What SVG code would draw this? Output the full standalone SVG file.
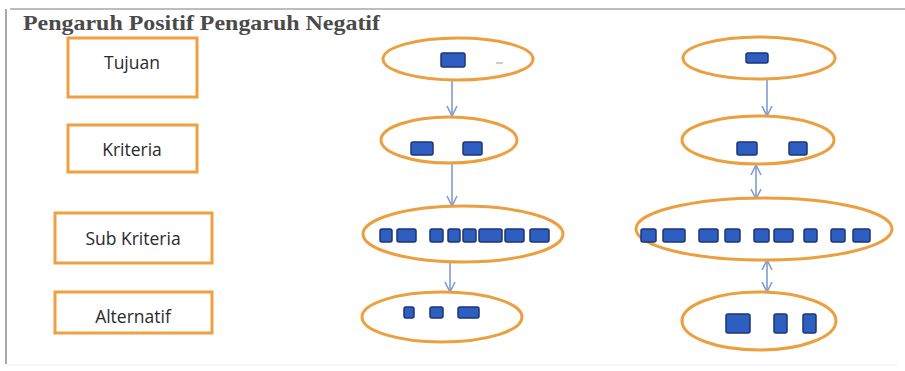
<svg xmlns="http://www.w3.org/2000/svg" width="905" height="371" viewBox="0 0 905 371">
<defs>
<style>
.lbl{fill:#fff;stroke:#F0A040;stroke-width:3}
.lt{font-family:"Open Sans","Liberation Sans",sans-serif;font-size:17.5px;fill:#2a2a2a;text-anchor:middle}
.ell{fill:#fff;stroke:#EBA040;stroke-width:3}
.b{fill:#2E5FC0;stroke:#1B3575;stroke-width:1.5}
.c{stroke:#7F9BD0;stroke-width:1.6;fill:none}
</style>
<marker id="ah" viewBox="0 0 12 12" refX="11" refY="6" markerWidth="12" markerHeight="12" markerUnits="userSpaceOnUse" orient="auto-start-reverse">
<path d="M1,1 L11,6 L1,11" fill="none" stroke="#7F9BD0" stroke-width="1.6"/>
</marker>
</defs>
<rect width="905" height="371" fill="#fff"/>
<line x1="10" y1="9" x2="905" y2="9" stroke="#bdbdbd" stroke-width="2"/>
<line x1="6" y1="9" x2="6" y2="364" stroke="#a8a8a8" stroke-width="2"/>
<line x1="6" y1="365" x2="898" y2="365" stroke="#eeeeee" stroke-width="1"/>
<text x="23" y="30" font-family="Liberation Serif,serif" font-weight="bold" font-size="21" fill="#4a4a4a" textLength="357" lengthAdjust="spacingAndGlyphs">Pengaruh Positif Pengaruh Negatif</text>

<g id="tujuan"><rect class="lbl" x="68" y="38" width="129" height="59"/><text class="lt" x="132" y="69">Tujuan</text></g>
<g id="kriteria"><rect class="lbl" x="68" y="125" width="129" height="47"/><text class="lt" x="132" y="156">Kriteria</text></g>
<g id="subkriteria"><rect class="lbl" x="55" y="213" width="157" height="50"/><text class="lt" x="133" y="245">Sub Kriteria</text></g>
<g id="alternatif"><rect class="lbl" x="55" y="292" width="157" height="41"/><text class="lt" x="133" y="323">Alternatif</text></g>

<g id="connectors">
<line class="c" x1="452" y1="80" x2="452" y2="116" marker-end="url(#ah)"/>
<line class="c" x1="452" y1="163" x2="452" y2="206" marker-end="url(#ah)"/>
<line class="c" x1="450" y1="262" x2="450" y2="292" marker-end="url(#ah)"/>
<line class="c" x1="767" y1="80" x2="767" y2="116" marker-end="url(#ah)"/>
<line class="c" x1="756" y1="165" x2="756" y2="199" marker-start="url(#ah)" marker-end="url(#ah)"/>
<line class="c" x1="767" y1="260" x2="767" y2="292" marker-start="url(#ah)" marker-end="url(#ah)"/>
</g>

<g id="pos-tujuan"><ellipse class="ell" cx="458" cy="59" rx="75" ry="21"/><rect class="b" x="441" y="53" width="24" height="14" rx="2"/><line x1="496" y1="63" x2="503" y2="63" stroke="#ccc" stroke-width="2"/></g>
<g id="pos-kriteria"><ellipse class="ell" cx="449" cy="140" rx="68" ry="23"/><rect class="b" x="411" y="142" width="22" height="13" rx="2"/><rect class="b" x="463" y="142" width="19" height="13" rx="2"/></g>
<g id="pos-sub"><ellipse class="ell" cx="463" cy="234" rx="100" ry="28"/>
<rect class="b" x="380" y="229" width="12" height="13" rx="2"/><rect class="b" x="397" y="229" width="19" height="13" rx="2"/><rect class="b" x="430" y="229" width="13" height="13" rx="2"/><rect class="b" x="448" y="229" width="12" height="13" rx="2"/><rect class="b" x="463" y="229" width="13" height="13" rx="2"/><rect class="b" x="479" y="229" width="23" height="13" rx="2"/><rect class="b" x="505" y="229" width="19" height="13" rx="2"/><rect class="b" x="530" y="229" width="19" height="13" rx="2"/></g>
<g id="pos-alt"><ellipse class="ell" cx="442" cy="317" rx="80" ry="25"/><rect class="b" x="404" y="307" width="10" height="11" rx="2"/><rect class="b" x="430" y="307" width="13" height="11" rx="2"/><rect class="b" x="458" y="307" width="21" height="11" rx="2"/></g>

<g id="neg-tujuan"><ellipse class="ell" cx="759" cy="58" rx="76" ry="21"/><rect class="b" x="746" y="53" width="22" height="10" rx="2"/></g>
<g id="neg-kriteria"><ellipse class="ell" cx="758" cy="140" rx="76" ry="24"/><rect class="b" x="737" y="142" width="20" height="13" rx="2"/><rect class="b" x="789" y="142" width="18" height="13" rx="2"/></g>
<g id="neg-sub"><ellipse class="ell" cx="764" cy="229" rx="128" ry="31"/>
<rect class="b" x="641" y="229" width="15" height="13" rx="2"/><rect class="b" x="663" y="229" width="22" height="13" rx="2"/><rect class="b" x="699" y="229" width="19" height="13" rx="2"/><rect class="b" x="725" y="229" width="15" height="13" rx="2"/><rect class="b" x="754" y="229" width="15" height="13" rx="2"/><rect class="b" x="774" y="229" width="19" height="13" rx="2"/><rect class="b" x="804" y="229" width="13" height="13" rx="2"/><rect class="b" x="831" y="229" width="14" height="13" rx="2"/><rect class="b" x="853" y="229" width="17" height="13" rx="2"/></g>
<g id="neg-alt"><ellipse class="ell" cx="759" cy="321" rx="77" ry="29"/><rect class="b" x="726" y="314" width="24" height="19" rx="2"/><rect class="b" x="774" y="314" width="13" height="19" rx="2"/><rect class="b" x="803" y="314" width="13" height="19" rx="2"/></g>
</svg>
